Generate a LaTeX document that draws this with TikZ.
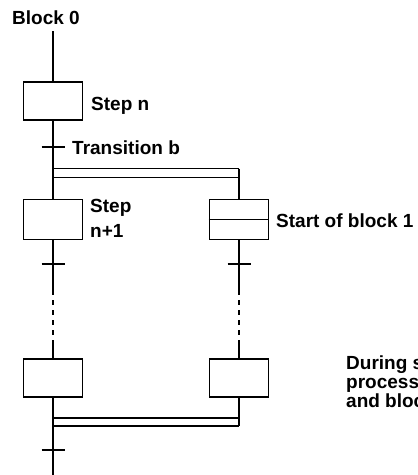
\documentclass[tikz,border=0pt]{standalone}
\usepackage{fontspec}
\setmainfont{Liberation Sans}
\begin{document}
\begin{tikzpicture}[x=1pt,y=-1pt,
  stepbox/.style={draw, line width=1.6pt, minimum width=59pt, minimum height=38pt, inner sep=0pt},
  lbl/.style={anchor=base west, inner sep=0pt, font=\fontsize{19}{20}\selectfont\bfseries},
  flow/.style={line width=1.8pt},
  dbl/.style={line width=1.5pt},
  tickline/.style={line width=1.8pt},
  dashedflow/.style={line width=1.8pt, dash pattern=on 5pt off 5pt}]
\useasboundingbox (0,0) rectangle (418,475);
% labels
\node[lbl] (block0) at (12,24) {Block 0};
\node[lbl] (lstepn) at (91,110) {Step n};
\node[lbl] (ltrans) at (72,154) {Transition b};
\node[lbl] (lstep1) at (90,212) {Step};
\node[lbl] (lstep1b) at (90,237) {n+1};
\node[lbl] (lstart) at (276,227) {Start of block 1};
\node[lbl] (ld1) at (346,369) {During s};
\node[lbl] (ld2) at (346,388) {process};
\node[lbl] (ld3) at (346,407) {and bloc};
% step boxes
\node[stepbox] (sn) at (53,101) {};
\node[stepbox, minimum height=40pt] (sn1) at (53,219.5) {};
\node[stepbox, minimum height=40pt] (b1) at (239,219.5) {};
\node[stepbox] (ln) at (53,378) {};
\node[stepbox] (rn) at (239,378) {};
\draw[line width=1.6pt] (b1.west) -- (b1.east);
% coordinates
\coordinate (top) at (53,31);
\coordinate (t1) at (53,147);
\coordinate (d1a) at (53,168.5);
\coordinate (d1b) at (53,177.5);
\coordinate (d1ar) at (239,168.5);
\coordinate (d1br) at (239,177.5);
\coordinate (t2l) at (53,264);
\coordinate (t2r) at (239,264);
\coordinate (dsl) at (53,290);
\coordinate (del) at (53,342);
\coordinate (dsr) at (239,290);
\coordinate (der) at (239,342);
\coordinate (d2a) at (53,418);
\coordinate (d2b) at (53,426);
\coordinate (d2ar) at (239,418);
\coordinate (d2br) at (239,426);
\coordinate (t3) at (53,450);
\coordinate (bot) at (53,476);
% main flow
\draw[flow] (top) -- (sn.north);
\draw[flow] (sn.south) -- (sn1.north);
\draw[flow] (d1ar) -- (b1.north);
\draw[flow] (sn1.south) -- (dsl);
\draw[dashedflow] (dsl) -- (del);
\draw[flow] (del) -- (ln.north);
\draw[flow] (b1.south) -- (dsr);
\draw[dashedflow] (dsr) -- (der);
\draw[flow] (der) -- (rn.north);
\draw[flow] (ln.south) -- (bot);
\draw[flow] (rn.south) -- (d2br);
% double lines
\draw[dbl] (d1a) -- (d1ar);
\draw[dbl] (d1b) -- (d1br);
\draw[dbl] (d2a) -- (d2ar);
\draw[dbl] (d2b) -- (d2br);
% transitions
\draw[tickline] ([xshift=-11.5pt]t1) -- ([xshift=11.5pt]t1);
\draw[tickline] ([xshift=-11.5pt]t2l) -- ([xshift=11.5pt]t2l);
\draw[tickline] ([xshift=-11.5pt]t2r) -- ([xshift=11.5pt]t2r);
\draw[tickline] ([xshift=-11.5pt]t3) -- ([xshift=11.5pt]t3);
\end{tikzpicture}
\end{document}
